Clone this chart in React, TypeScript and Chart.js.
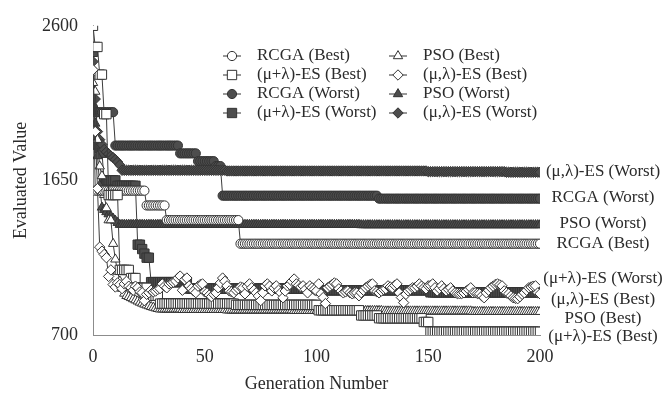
import React, { useEffect, useRef } from 'react';
import { Chart, registerables } from 'chart.js';
import { drawPoint } from 'chart.js/helpers';

Chart.register(...registerables);

const FONT = '"Liberation Serif", "Times New Roman", serif';

const generations = Array.from({ length: 201 }, (_, i) => i);
const xTicks = [0, 50, 100, 150, 200];
const yTicks = [700, 1650, 2600];

// Best-so-far / worst curves as runs: [first generation, value held from there]
const rcgaBestRuns = [[0, 2320], [1, 1587], [24, 1496], [33, 1406], [66, 1261]];
const rcgaWorstRuns = [[0, 2100], [1, 2069], [10, 1864], [39, 1816], [47, 1768], [55, 1738], [58, 1556], [128, 1538]];
const psoBestRuns = [[0, 2250], [1, 2196], [2, 1900], [3, 1737], [4, 1677], [5, 1562], [6, 1480], [7, 1406], [9, 1261], [10, 1165], [11, 1090], [12, 1030], [13, 985], [14, 955], [15, 941], [16, 935], [17, 928], [18, 921], [19, 914], [20, 907], [21, 900], [22, 894], [23, 888], [24, 883], [25, 878], [26, 873], [27, 869], [28, 865], [29, 861], [30, 858], [40, 855], [60, 852], [90, 849], [130, 846], [170, 843]];
const psoWorstRuns = [[0, 2200], [1, 2000], [2, 1800], [3, 1620], [4, 1484], [5, 1470], [6, 1456], [7, 1443], [8, 1430], [9, 1416], [10, 1403], [11, 1390], [12, 1378], [120, 1376]];
const muPlusBestRuns = [[0, 2600], [1, 2470], [3, 2300], [5, 2057], [7, 1560], [12, 1100], [17, 1050], [20, 990], [25, 941], [30, 893], [64, 885], [101, 852], [120, 820], [128, 803], [148, 780], [151, 720]];
const muPlusWorstRuns = [[0, 2440], [1, 1900], [2, 1870], [3, 1850], [4, 1820], [5, 1650], [11, 1617], [20, 1255], [22, 1228], [23, 1200], [24, 1175], [26, 1025], [43, 985], [101, 975], [151, 962]];
const muCommaWorstRuns = [[0, 2380], [1, 2150], [2, 1950], [3, 1900], [4, 1870], [5, 1840], [6, 1825], [7, 1812], [8, 1800], [9, 1790], [10, 1778], [11, 1763], [12, 1745], [13, 1712], [60, 1708], [150, 1704], [185, 1700]];

// (mu,lambda)-ES best: fluctuating, one value per generation 0..200
const muCommaBest = [
  2330, 1950, 1600, 1240, 1215, 1195, 1175, 1060, 1100, 1010,
  995, 1020, 1010, 985, 1014, 1030, 1000, 990, 975, 1000,
  990, 965, 960, 911, 950, 960, 975, 965, 970, 980,
  985, 1014, 1000, 990, 1014, 1020, 1025, 1032, 1050, 1062,
  975, 1040, 1050, 1002, 985, 971, 960, 1000, 1010, 1014,
  965, 959, 945, 935, 950, 959, 990, 1020, 1050, 1030,
  1002, 971, 965, 959, 975, 985, 995, 990, 953, 1000,
  1014, 990, 975, 959, 940, 911, 960, 1002, 1014, 1000,
  971, 990, 1002, 975, 959, 929, 970, 1002, 1010, 1030,
  1044, 1014, 1005, 995, 1002, 980, 959, 1002, 990, 980,
  971, 1014, 953, 930, 893, 990, 1000, 1010, 1020, 1014,
  984, 970, 959, 965, 971, 960, 953, 958, 959, 941,
  960, 975, 990, 1000, 1010, 1014, 971, 965, 959, 970,
  980, 984, 1002, 995, 990, 1005, 1014, 959, 930, 899,
  950, 971, 980, 990, 990, 1000, 1014, 1000, 990, 984,
  1002, 1005, 1014, 990, 971, 985, 1002, 985, 971, 980,
  990, 970, 959, 955, 953, 955, 959, 970, 980, 990,
  959, 960, 955, 953, 940, 929, 959, 975, 990, 1000,
  1010, 1014, 1008, 1002, 971, 960, 953, 940, 929, 925,
  923, 935, 950, 959, 975, 990, 995, 1000, 1002, 959,
  953,
];

const seriesNames = [
  'RCGA (Best)', '(μ+λ)-ES (Best)', 'RCGA (Worst)', '(μ+λ)-ES (Worst)',
  'PSO (Best)', '(μ,λ)-ES (Best)', 'PSO (Worst)', '(μ,λ)-ES (Worst)',
];

// right-hand annotation anchors (value on the y scale) for each series
const endLabelValues = [1261, 688, 1544, 1050, 803, 917, 1388, 1707];

function expandRuns(runs: number[][]): number[] {
  return generations.map((g) => {
    let v = runs[0][1];
    for (const [start, val] of runs) if (g >= start) v = val;
    return v;
  });
}

const seriesValues = [
  expandRuns(rcgaBestRuns),
  expandRuns(muPlusBestRuns),
  expandRuns(rcgaWorstRuns),
  expandRuns(muPlusWorstRuns),
  expandRuns(psoBestRuns),
  muCommaBest,
  expandRuns(psoWorstRuns),
  expandRuns(muCommaWorstRuns),
];

const styles = [
  { pointStyle: 'circle', radius: 4.6, filled: false, order: 4 },
  { pointStyle: 'rect', radius: 6.6, filled: false, order: 3 },
  { pointStyle: 'circle', radius: 4.6, filled: true, order: 9 },
  { pointStyle: 'rect', radius: 6.6, filled: true, order: 8 },
  { pointStyle: 'triangle', radius: 5.4, filled: false, order: 5 },
  { pointStyle: 'rectRot', radius: 5.2, filled: false, order: 1 },
  { pointStyle: 'triangle', radius: 5.4, filled: true, order: 7 },
  { pointStyle: 'rectRot', radius: 5.2, filled: true, order: 6 },
];

const DARK = '#4d4d4d';
const EDGE = '#333333';
const TEXT = '#2b2b2b';

const annotationPlugin = {
  id: 'annotations',
  afterDraw(chart: any) {
    const { ctx, chartArea, scales } = chart;
    ctx.save();
    ctx.font = `17px ${FONT}`;
    ctx.fillStyle = TEXT;
    ctx.textBaseline = 'middle';
    // end labels
    ctx.textAlign = 'center';
    seriesNames.forEach((name, i) => {
      ctx.fillText(name, chartArea.right + 63, scales.y.getPixelForValue(endLabelValues[i]));
    });
    // legend
    const colMarkerX = [232, 398];
    const rowY = [56, 75, 94, 113];
    seriesNames.forEach((name, i) => {
      const col = Math.floor(i / 4);
      const row = i % 4;
      const mx = colMarkerX[col];
      const my = rowY[row];
      const st = styles[i];
      ctx.strokeStyle = EDGE;
      ctx.lineWidth = 1;
      ctx.beginPath();
      ctx.moveTo(mx - 9, my);
      ctx.lineTo(mx + 9, my);
      ctx.stroke();
      ctx.fillStyle = st.filled ? DARK : '#ffffff';
      ctx.strokeStyle = EDGE;
      drawPoint(ctx, { pointStyle: st.pointStyle, radius: st.radius, rotation: 0, borderWidth: 1 }, mx, my);
      ctx.fillStyle = TEXT;
      ctx.textAlign = 'left';
      ctx.fillText(name, mx + 25, my);
    });
    ctx.restore();
  },
};

export default function App() {
  const ref = useRef<HTMLCanvasElement | null>(null);
  useEffect(() => {
    document.body.style.margin = '0';
    const canvas = ref.current;
    if (!canvas) return;
    const datasets = seriesNames.map((name, i) => ({
      label: name,
      data: generations.map((g, j) => ({ x: g, y: seriesValues[i][j] })),
      borderColor: '#3c3c3c',
      borderWidth: 1,
      pointStyle: styles[i].pointStyle,
      pointRadius: styles[i].radius,
      pointBackgroundColor: styles[i].filled ? DARK : '#ffffff',
      pointBorderColor: EDGE,
      pointBorderWidth: 1,
      order: styles[i].order,
      tension: 0,
      fill: false,
    }));
    const chart = new Chart(canvas, {
      type: 'line',
      data: { datasets },
      options: {
        animation: false,
        responsive: true,
        maintainAspectRatio: false,
        layout: { padding: { top: 20, right: 128, left: 0, bottom: 0 } },
        plugins: { legend: { display: false }, tooltip: { enabled: false } },
        scales: {
          x: {
            type: 'linear',
            min: 0,
            max: 200,
            afterBuildTicks: (scale: any) => { scale.ticks = xTicks.map((v) => ({ value: v })); },
            afterFit: (scale: any) => { scale.height = 64; },
            grid: { display: false, drawTicks: false },
            border: { display: true, color: '#8c8c8c', width: 1 },
            ticks: { padding: 11, color: TEXT, font: { family: FONT, size: 18 }, callback: (v: any) => String(v) },
            title: { display: true, text: 'Generation Number', color: TEXT, font: { family: FONT, size: 18 }, padding: { top: 0, bottom: 4 } },
          },
          y: {
            type: 'linear',
            min: 700,
            max: 2600,
            afterBuildTicks: (scale: any) => { scale.ticks = yTicks.map((v) => ({ value: v })); },
            afterFit: (scale: any) => { scale.width = 93; },
            grid: { display: false, drawTicks: false },
            border: { display: true, color: '#8c8c8c', width: 1 },
            ticks: { padding: 15, color: TEXT, font: { family: FONT, size: 18 }, callback: (v: any) => String(v) },
            title: { display: true, text: 'Evaluated Value', color: TEXT, font: { family: FONT, size: 18 }, padding: { top: 10, bottom: 0 } },
          },
        },
      },
      plugins: [annotationPlugin],
    });
    return () => chart.destroy();
  }, []);
  return (
    <div style={{ position: 'absolute', left: 0, top: 0, width: 668, height: 399 }}>
      <canvas ref={ref} />
    </div>
  );
}
